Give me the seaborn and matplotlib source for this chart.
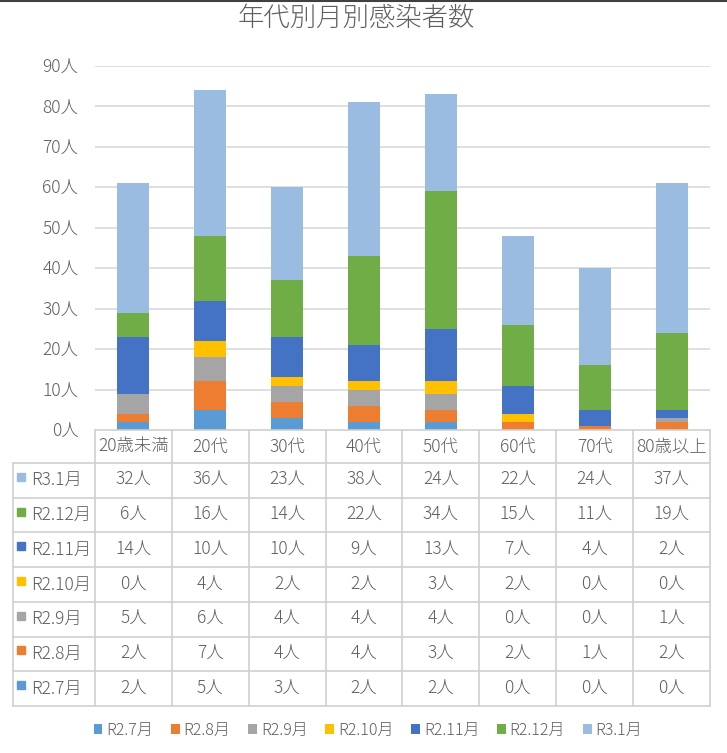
import numpy as np
import pandas as pd
import matplotlib
matplotlib.use('Agg')
import matplotlib.pyplot as plt
import seaborn as sns
from matplotlib.patches import Patch
from matplotlib.lines import Line2D

sns.set_theme(style='white')
plt.rcParams['font.family'] = ['Noto Sans CJK JP', 'DejaVu Sans']
plt.rcParams['font.weight'] = 'light'

ages = ['20歳未満', '20代', '30代', '40代', '50代', '60代', '70代', '80歳以上']
months = ['R2.7月', 'R2.8月', 'R2.9月', 'R2.10月', 'R2.11月', 'R2.12月', 'R3.1月']
r2_7 = [2, 5, 3, 2, 2, 0, 0, 0]
r2_8 = [2, 7, 4, 4, 3, 2, 1, 2]
r2_9 = [5, 6, 4, 4, 4, 0, 0, 1]
r2_10 = [0, 4, 2, 2, 3, 2, 0, 0]
r2_11 = [14, 10, 10, 9, 13, 7, 4, 2]
r2_12 = [6, 16, 14, 22, 34, 15, 11, 19]
r3_1 = [32, 36, 23, 38, 24, 22, 24, 37]
yticks = list(range(0, 100, 10))

colors = ['#5B9BD5', '#ED7D31', '#A5A5A5', '#FFC000', '#4472C4', '#70AD47', '#9BBCE1']
txt = '#5f5f5f'
grid = '#D9D9D9'
fs = 12.5

df = pd.DataFrame([r2_7, r2_8, r2_9, r2_10, r2_11, r2_12, r3_1], index=months, columns=ages)
cum = df.cumsum()

W, H = 727, 753
fig = plt.figure(figsize=(W / 100, H / 100), dpi=100)

# chart area
ax = fig.add_axes([95 / W, (H - 430) / H, 615 / W, 364 / H])
for m, c in reversed(list(zip(months, colors))):
    sns.barplot(x=ages, y=cum.loc[m].values, color=c, width=0.416, ax=ax,
                saturation=1, linewidth=0, zorder=3)
ax.set_xlim(-0.5, 7.5)
ax.set_ylim(0, 90)
ax.set_yticks(yticks)
ax.set_yticklabels([f'{v}人' for v in yticks], color=txt, fontsize=fs)
ax.tick_params(axis='y', length=0, pad=12)
ax.set_xticks([])
ax.set_xlabel('')
ax.set_ylabel('')
for v in yticks[1:]:
    ax.axhline(v, color=grid, lw=1.2, zorder=1)
for s in ax.spines.values():
    s.set_visible(False)

# data table under the chart
h0 = 0.95
nrow = len(months)
left = -0.5 - 82 / 76.9
tx = fig.add_axes([13 / W, (H - 706) / H, 697 / W, 276 / H])
tx.set_xlim(left, 7.5)
tx.set_ylim(h0 + nrow, 0)
tx.axis('off')
lc = '#D0D0D0'
tx.plot([-0.5, 7.5], [0, 0], color=lc, lw=1.2, clip_on=False)
for i in range(nrow + 1):
    tx.plot([left, 7.5], [h0 + i, h0 + i], color=lc, lw=1.2, clip_on=False)
tx.plot([left, left], [h0, h0 + nrow], color=lc, lw=1.2, clip_on=False)
for j in range(len(ages) + 1):
    tx.plot([j - 0.5, j - 0.5], [0, h0 + nrow], color=lc, lw=1.2, clip_on=False)

for j, a in enumerate(ages):
    tx.text(j, h0 / 2, a, ha='center', va='center', color=txt, fontsize=fs)

for r, (m, c) in enumerate(reversed(list(zip(months, colors)))):
    yc = h0 + r + 0.5
    tx.plot([(21 - 95) / 76.9 - 0.5], [yc - 0.1], marker='s', ms=5.5, color=c,
            linestyle='none', clip_on=False)
    tx.text((31 - 95) / 76.9 - 0.5, yc, m, ha='left', va='center', color=txt, fontsize=fs)
    for j, v in enumerate(df.loc[m].values):
        tx.text(j, yc, f'{v}人', ha='center', va='center', color=txt, fontsize=fs)

# legend
handles = [Patch(facecolor=c, edgecolor='none', label=m) for m, c in zip(months, colors)]
fig.legend(handles=handles, loc='center', bbox_to_anchor=(368 / W, 1 - 730 / H), ncol=7,
           frameon=False, fontsize=11.5, handlelength=0.55, handleheight=0.55,
           handletextpad=0.25, columnspacing=1.1, labelcolor=txt)

fig.text(356 / W, 1 - 18 / H, '年代別月別感染者数', ha='center', va='center',
         color=txt, fontsize=19)
fig.add_artist(Line2D([0, 1], [1 - 0.5 / H, 1 - 0.5 / H], color='#404040', lw=1.5))

fig.savefig('out.png', dpi=100)
